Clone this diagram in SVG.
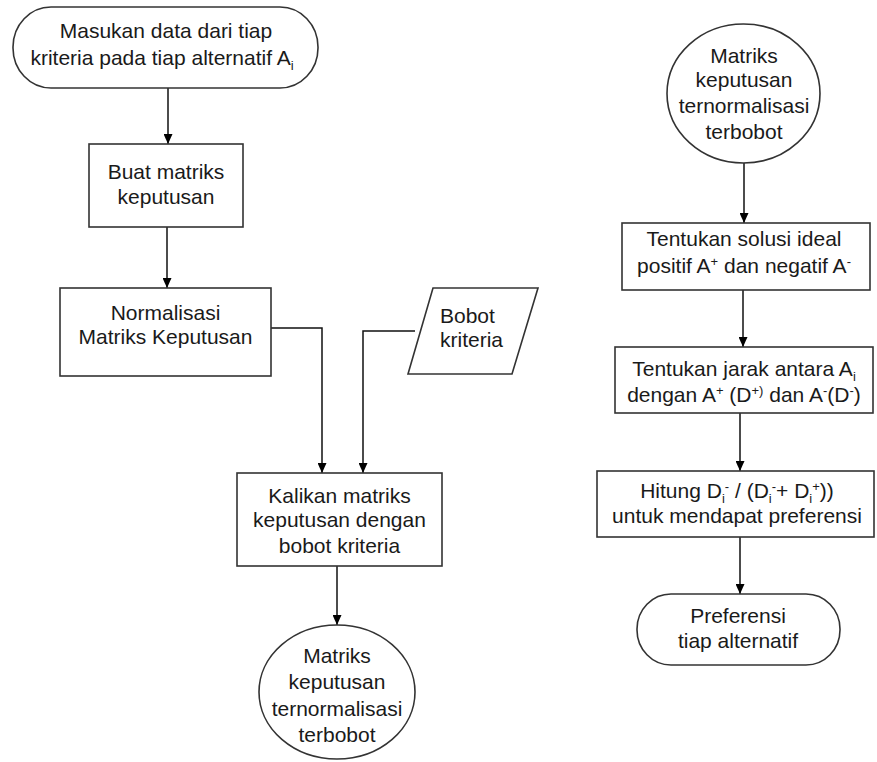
<svg xmlns="http://www.w3.org/2000/svg" width="877" height="762" viewBox="0 0 877 762">
  <defs>
    <marker id="arrow" markerUnits="userSpaceOnUse" markerWidth="10" markerHeight="9" refX="10" refY="4.5" orient="auto">
      <path d="M0,0 L10,4.5 L0,9 z" fill="#000"/>
    </marker>
    <style>
      .shape { fill: #fff; stroke: #333; stroke-width: 1.6; }
      .conn { fill: none; stroke: #111; stroke-width: 1.5; }
      .arr { marker-end: url(#arrow); }
      text { font-family: "Liberation Sans", Arial, sans-serif; font-size: 21px; fill: #1a1a1a; }
      .c { text-anchor: middle; }
      .sm { font-size: 13px; }
    </style>
  </defs>
  <rect width="877" height="762" fill="#fff"/>

  <!-- connectors -->
  <g id="connectors">
    <path class="conn arr" d="M168,88 V144"/>
    <path class="conn arr" d="M167,227 V288"/>
    <path class="conn arr" d="M271,328 H322 V473"/>
    <path class="conn arr" d="M415,331 H363 V473"/>
    <path class="conn arr" d="M337,566 V625"/>
    <path class="conn arr" d="M744,163 V223"/>
    <path class="conn arr" d="M743,290 V347"/>
    <path class="conn arr" d="M740,413 V471"/>
    <path class="conn arr" d="M740,537 V594"/>
  </g>

  <!-- left column -->
  <g id="input-data">
    <rect class="shape" x="13" y="7" width="305" height="81" rx="38" ry="40"/>
    <text class="c" x="166" y="38">Masukan data dari tiap</text>
    <text class="c" x="162" y="65">kriteria pada tiap alternatif A<tspan class="sm" dy="5">i</tspan></text>
  </g>

  <g id="buat-matriks">
    <rect class="shape" x="89" y="144" width="154" height="83"/>
    <text class="c" x="166" y="179">Buat matriks</text>
    <text class="c" x="166" y="204">keputusan</text>
  </g>

  <g id="normalisasi">
    <rect class="shape" x="60" y="288" width="211" height="88"/>
    <text class="c" x="165.5" y="320">Normalisasi</text>
    <text class="c" x="165.5" y="344">Matriks Keputusan</text>
  </g>

  <g id="bobot-kriteria">
    <polygon class="shape" points="433,288 538,288 512,374 408,374"/>
    <text x="440" y="323">Bobot</text>
    <text x="440" y="347">kriteria</text>
  </g>

  <g id="kalikan">
    <rect class="shape" x="237" y="473" width="205" height="93"/>
    <text class="c" x="339.5" y="503">Kalikan matriks</text>
    <text class="c" x="339.5" y="527">keputusan dengan</text>
    <text class="c" x="339.5" y="553">bobot kriteria</text>
  </g>

  <g id="matriks-terbobot-out">
    <ellipse class="shape" cx="337" cy="692" rx="78" ry="67"/>
    <text class="c" x="337" y="663">Matriks</text>
    <text class="c" x="337" y="689">keputusan</text>
    <text class="c" x="337" y="716">ternormalisasi</text>
    <text class="c" x="337" y="742">terbobot</text>
  </g>

  <!-- right column -->
  <g id="matriks-terbobot-in">
    <ellipse class="shape" cx="743.5" cy="93.5" rx="76.5" ry="69.5"/>
    <text class="c" x="744" y="63">Matriks</text>
    <text class="c" x="744" y="87">keputusan</text>
    <text class="c" x="744" y="113">ternormalisasi</text>
    <text class="c" x="744" y="139">terbobot</text>
  </g>

  <g id="solusi-ideal">
    <rect class="shape" x="622" y="223" width="248" height="67"/>
    <text class="c" x="744" y="246">Tentukan solusi ideal</text>
    <text class="c" x="744" y="273">positif A<tspan class="sm" dy="-7">+</tspan><tspan dy="7"> dan negatif A</tspan><tspan class="sm" dy="-7">-</tspan></text>
  </g>

  <g id="jarak">
    <rect class="shape" x="615" y="347" width="258" height="66"/>
    <text class="c" x="744" y="376">Tentukan jarak antara A<tspan class="sm" dy="5">i</tspan></text>
    <text class="c" x="744" y="402">dengan A<tspan class="sm" dy="-7">+</tspan><tspan dy="7"> (D</tspan><tspan class="sm" dy="-7">+)</tspan><tspan dy="7"> dan A</tspan><tspan class="sm" dy="-7">-</tspan><tspan dy="7">(D</tspan><tspan class="sm" dy="-7">-</tspan><tspan dy="7">)</tspan></text>
  </g>

  <g id="hitung">
    <rect class="shape" x="597" y="471" width="277" height="66"/>
    <text class="c" x="737" y="498">Hitung D<tspan class="sm" dy="5">i</tspan><tspan class="sm" dy="-12">-</tspan><tspan dy="7"> / (D</tspan><tspan class="sm" dy="5">i</tspan><tspan class="sm" dy="-12">-</tspan><tspan dy="7">+ D</tspan><tspan class="sm" dy="5">i</tspan><tspan class="sm" dy="-12">+</tspan><tspan dy="7">))</tspan></text>
    <text class="c" x="737" y="523">untuk mendapat preferensi</text>
  </g>

  <g id="preferensi">
    <rect class="shape" x="637" y="594" width="203" height="71" rx="34" ry="35"/>
    <text class="c" x="738" y="623">Preferensi</text>
    <text class="c" x="738" y="648">tiap alternatif</text>
  </g>
</svg>
